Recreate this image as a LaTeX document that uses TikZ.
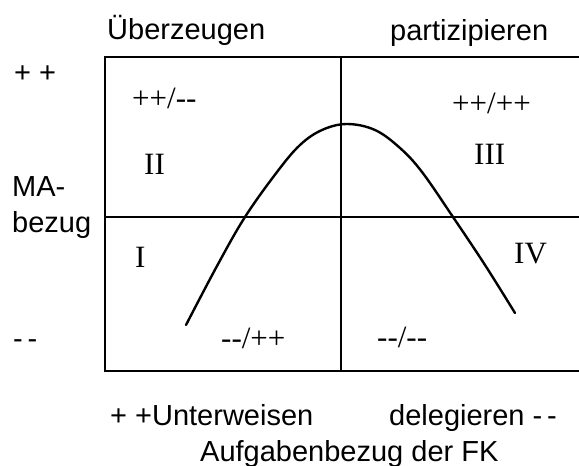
\documentclass[tikz,border=0pt]{standalone}
\usepackage{fontspec}
\setmainfont{Liberation Sans}
\newfontfamily\serifont{Liberation Serif}
\begin{document}
\begin{tikzpicture}[x=1pt,y=-1pt,
  lbl/.style={inner sep=0pt,anchor=base west,font=\fontsize{29}{35}\selectfont},
  slbl/.style={inner sep=0pt,anchor=base west,font=\serifont\fontsize{31}{36}\selectfont},
  grid/.style={line width=1.8pt},
  curveline/.style={line width=2.4pt,line cap=round}]
\useasboundingbox (0,0) rectangle (579,466);
% frame and quadrant lines
\draw[grid] (579,57) -- (105,57) -- (105,371) -- (579,371);
\draw[grid] (105,217) -- (579,217);
\draw[grid] (341,57) -- (341,371);
% curve
\draw[curveline] plot[smooth,tension=0.6] coordinates {(186,325) (217,266) (245,217) (277,172) (300,145) (322,130) (347,124) (375,130) (400,148) (422,172) (453,217) (485,265) (515,313)};
% top labels
\node[lbl] (ueb) at (107,39) {Überzeugen};
\node[lbl] (part) at (390,40) {partizipieren};
% left labels
\node[lbl] (pp) at (14,82) {+ +};
\node[lbl] (ma) at (12,196) {MA-};
\node[lbl] (bez) at (12,232) {bezug};
\node[lbl] (mm) at (13,348) {-\,-};
% quadrant labels
\node[slbl] (q1) at (132,108) {++/--};
\node[slbl] (q2) at (452,113) {++/++};
\node[slbl] (q3) at (221,348) {--/++};
\node[slbl] (q4) at (377,347) {--/--};
\node[slbl] (rII) at (144,174) {II};
\node[slbl] (rIII) at (474,164) {III};
\node[slbl] (rI) at (135,267) {I};
\node[slbl] (rIV) at (514,263) {IV};
% bottom labels
\node[lbl] (unt) at (110,425) {+ +Unterweisen};
\node[lbl] (del) at (389,425) {delegieren -\,-};
\node[lbl] (auf) at (200,461) {Aufgabenbezug der FK};
\end{tikzpicture}
\end{document}
